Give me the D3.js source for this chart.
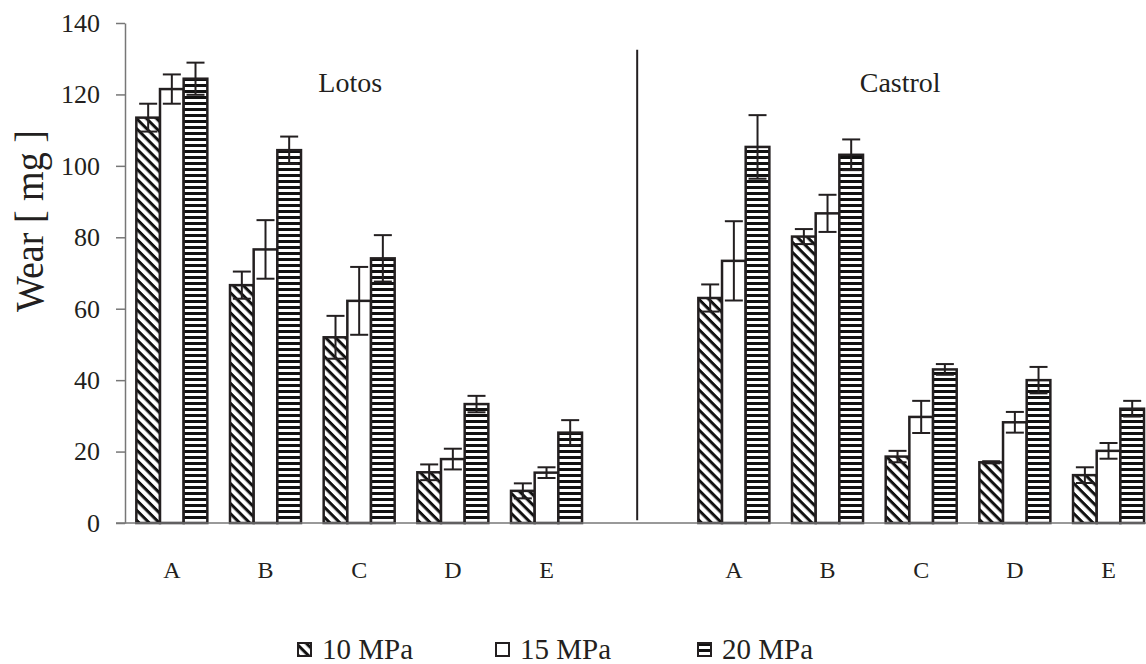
<!DOCTYPE html>
<html>
<head>
<meta charset="utf-8">
<title>Wear by lubricant and pressure</title>
<style>
  body { margin: 0; background: #fff; }
  svg { display: block; }
  .axis-line { stroke: #777; stroke-width: 1.5; }
  .bar { stroke: #231f20; stroke-width: 2.5; }
  .err { stroke: #231f20; stroke-width: 2; fill: none; }
</style>
</head>
<body>
<svg width="1146" height="664" font-family="Liberation Serif"></svg>
<script src="https://d3js.org/d3.v7.min.js"></script>
<script>
// categories and series
var letters = ["A", "B", "C", "D", "E"];
var oils = ["Lotos", "Castrol"];
var pressures = ["10 MPa", "15 MPa", "20 MPa"];
var yTicks = [0, 20, 40, 60, 80, 100, 120, 140];

// mean wear [mg]
var lotos10 = [113.5, 66.6, 52.0, 14.2, 9.0];
var lotos15 = [121.5, 76.6, 62.2, 17.9, 14.1];
var lotos20 = [124.4, 104.4, 74.1, 33.3, 25.3];
var castrol10 = [63.0, 80.2, 18.6, 17.0, 13.4];
var castrol15 = [73.4, 86.7, 29.7, 28.2, 20.2];
var castrol20 = [105.3, 103.1, 43.0, 40.0, 32.0];

// error (+/-)
var lotos10Err = [3.9, 3.8, 6.0, 2.2, 2.1];
var lotos15Err = [4.1, 8.2, 9.5, 2.9, 1.5];
var lotos20Err = [4.5, 3.8, 6.5, 2.3, 3.5];
var castrol10Err = [3.8, 2.1, 1.6, 0.3, 2.2];
var castrol15Err = [11.1, 5.2, 4.5, 2.9, 2.2];
var castrol20Err = [8.9, 4.3, 1.5, 3.7, 2.2];

var FONT = "Liberation Serif";
var INK = "#231f20";

var svg = d3.select("svg");
var margin = { left: 125, bottom: 523, top: 23 };

// slots: Lotos A-E, a gap, Castrol A-E
var slots = letters.map(function(l) { return "Lotos " + l; })
  .concat(["gap"])
  .concat(letters.map(function(l) { return "Castrol " + l; }));

var x = d3.scaleBand()
  .domain(slots)
  .range([margin.left, margin.left + 11 * 93.67])
  .paddingInner(0.242)
  .paddingOuter(0.121);

var xs = d3.scaleBand()
  .domain(pressures)
  .range([0, x.bandwidth()]);

var y = d3.scaleLinear()
  .domain([0, 140])
  .range([margin.bottom, margin.top]);

// build rows for drawing
var means = { Lotos: [lotos10, lotos15, lotos20], Castrol: [castrol10, castrol15, castrol20] };
var errs = { Lotos: [lotos10Err, lotos15Err, lotos20Err], Castrol: [castrol10Err, castrol15Err, castrol20Err] };
var rows = [];
oils.forEach(function(oil) {
  letters.forEach(function(l, i) {
    pressures.forEach(function(p, j) {
      rows.push({ slot: oil + " " + l, key: p, value: means[oil][j][i], err: errs[oil][j][i] });
    });
  });
});

// patterns
var defs = svg.append("defs");
var diag = defs.append("pattern")
  .attr("id", "diag")
  .attr("patternUnits", "userSpaceOnUse")
  .attr("width", 7.1).attr("height", 7.1)
  .attr("patternTransform", "rotate(45)");
diag.append("rect").attr("width", 7.1).attr("height", 7.1).attr("fill", "#fff");
diag.append("rect").attr("width", 7.1).attr("height", 3).attr("fill", "#111");

var horiz = defs.append("pattern")
  .attr("id", "horiz")
  .attr("patternUnits", "userSpaceOnUse")
  .attr("width", 10).attr("height", 6);
horiz.append("rect").attr("width", 10).attr("height", 6).attr("fill", "#fff");
horiz.append("rect").attr("width", 10).attr("height", 3).attr("fill", "#111");

var fills = d3.scaleOrdinal()
  .domain(pressures)
  .range(["url(#diag)", "#fff", "url(#horiz)"]);

// y axis
var yAxis = svg.append("g")
  .attr("transform", "translate(" + margin.left + ",0)")
  .call(d3.axisLeft(y).tickValues(yTicks).tickSize(9).tickPadding(16).tickSizeOuter(0))
  .attr("font-family", FONT)
  .attr("font-size", 26);
yAxis.select(".domain").attr("stroke", "#777").attr("stroke-width", 1.5);
yAxis.selectAll(".tick line").attr("stroke", "#777").attr("stroke-width", 1.5);
yAxis.selectAll(".tick text").attr("fill", INK);

// x axis labels
var xAxis = svg.append("g")
  .attr("transform", "translate(0," + margin.bottom + ")")
  .call(d3.axisBottom(x).tickSize(0).tickPadding(38)
    .tickFormat(function(d) { return d === "gap" ? "" : d.split(" ")[1]; }))
  .attr("font-family", FONT)
  .attr("font-size", 24);
xAxis.select(".domain").remove();
xAxis.selectAll(".tick text").attr("fill", INK);

// divider between the two oils
svg.append("line")
  .attr("x1", x("gap") + x.bandwidth() / 2 - 3)
  .attr("x2", x("gap") + x.bandwidth() / 2 - 3)
  .attr("y1", y(132.5))
  .attr("y2", y(0.8))
  .attr("stroke", INK)
  .attr("stroke-width", 2);

// bars
svg.append("g")
  .selectAll("rect")
  .data(rows)
  .enter().append("rect")
    .attr("class", "bar")
    .attr("x", function(d) { return x(d.slot) + xs(d.key); })
    .attr("y", function(d) { return y(d.value); })
    .attr("width", xs.bandwidth())
    .attr("height", function(d) { return y(0) - y(d.value); })
    .attr("fill", function(d) { return fills(d.key); });

// baseline
svg.append("line")
  .attr("class", "axis-line")
  .attr("x1", margin.left - 9).attr("x2", 1146)
  .attr("y1", y(0)).attr("y2", y(0));

// error bars
var eg = svg.append("g").selectAll("g")
  .data(rows)
  .enter().append("g")
    .attr("class", "err")
    .attr("transform", function(d) { return "translate(" + (x(d.slot) + xs(d.key) + xs.bandwidth() / 2) + ",0)"; });
eg.append("line")
  .attr("y1", function(d) { return y(d.value + d.err); })
  .attr("y2", function(d) { return y(d.value - d.err); });
eg.append("line")
  .attr("x1", -9).attr("x2", 9)
  .attr("y1", function(d) { return y(d.value + d.err); })
  .attr("y2", function(d) { return y(d.value + d.err); });
eg.append("line")
  .attr("x1", -9).attr("x2", 9)
  .attr("y1", function(d) { return y(d.value - d.err); })
  .attr("y2", function(d) { return y(d.value - d.err); });

// group titles, centred a little off the C group
var titleShift = { Lotos: -9, Castrol: -21 };
svg.selectAll(".oil")
  .data(oils)
  .enter().append("text")
    .attr("class", "oil")
    .attr("x", function(d) { return x(d + " C") + x.bandwidth() / 2 + titleShift[d]; })
    .attr("y", 92)
    .attr("text-anchor", "middle")
    .attr("font-family", FONT)
    .attr("font-size", 28)
    .attr("fill", INK)
    .text(function(d) { return d; });

// y title
svg.append("text")
  .attr("transform", "translate(43,221) rotate(-90)")
  .attr("text-anchor", "middle")
  .attr("font-family", FONT)
  .attr("font-size", 41)
  .attr("textLength", 182)
  .attr("lengthAdjust", "spacingAndGlyphs")
  .attr("fill", INK)
  .text("Wear [ mg ]");

// legend
var legendX = [298, 496, 698];
var legend = svg.append("g")
  .selectAll("g")
  .data(pressures)
  .enter().append("g")
    .attr("transform", function(d, i) { return "translate(" + legendX[i] + ",643)"; });
legend.append("rect")
  .attr("width", 13).attr("height", 13)
  .attr("fill", function(d) { return fills(d); })
  .attr("stroke", INK)
  .attr("stroke-width", 2);
legend.append("text")
  .attr("x", 24)
  .attr("y", 16)
  .attr("font-family", FONT)
  .attr("font-size", 29)
  .attr("fill", INK)
  .text(function(d) { return d; });
</script>
</body>
</html>
